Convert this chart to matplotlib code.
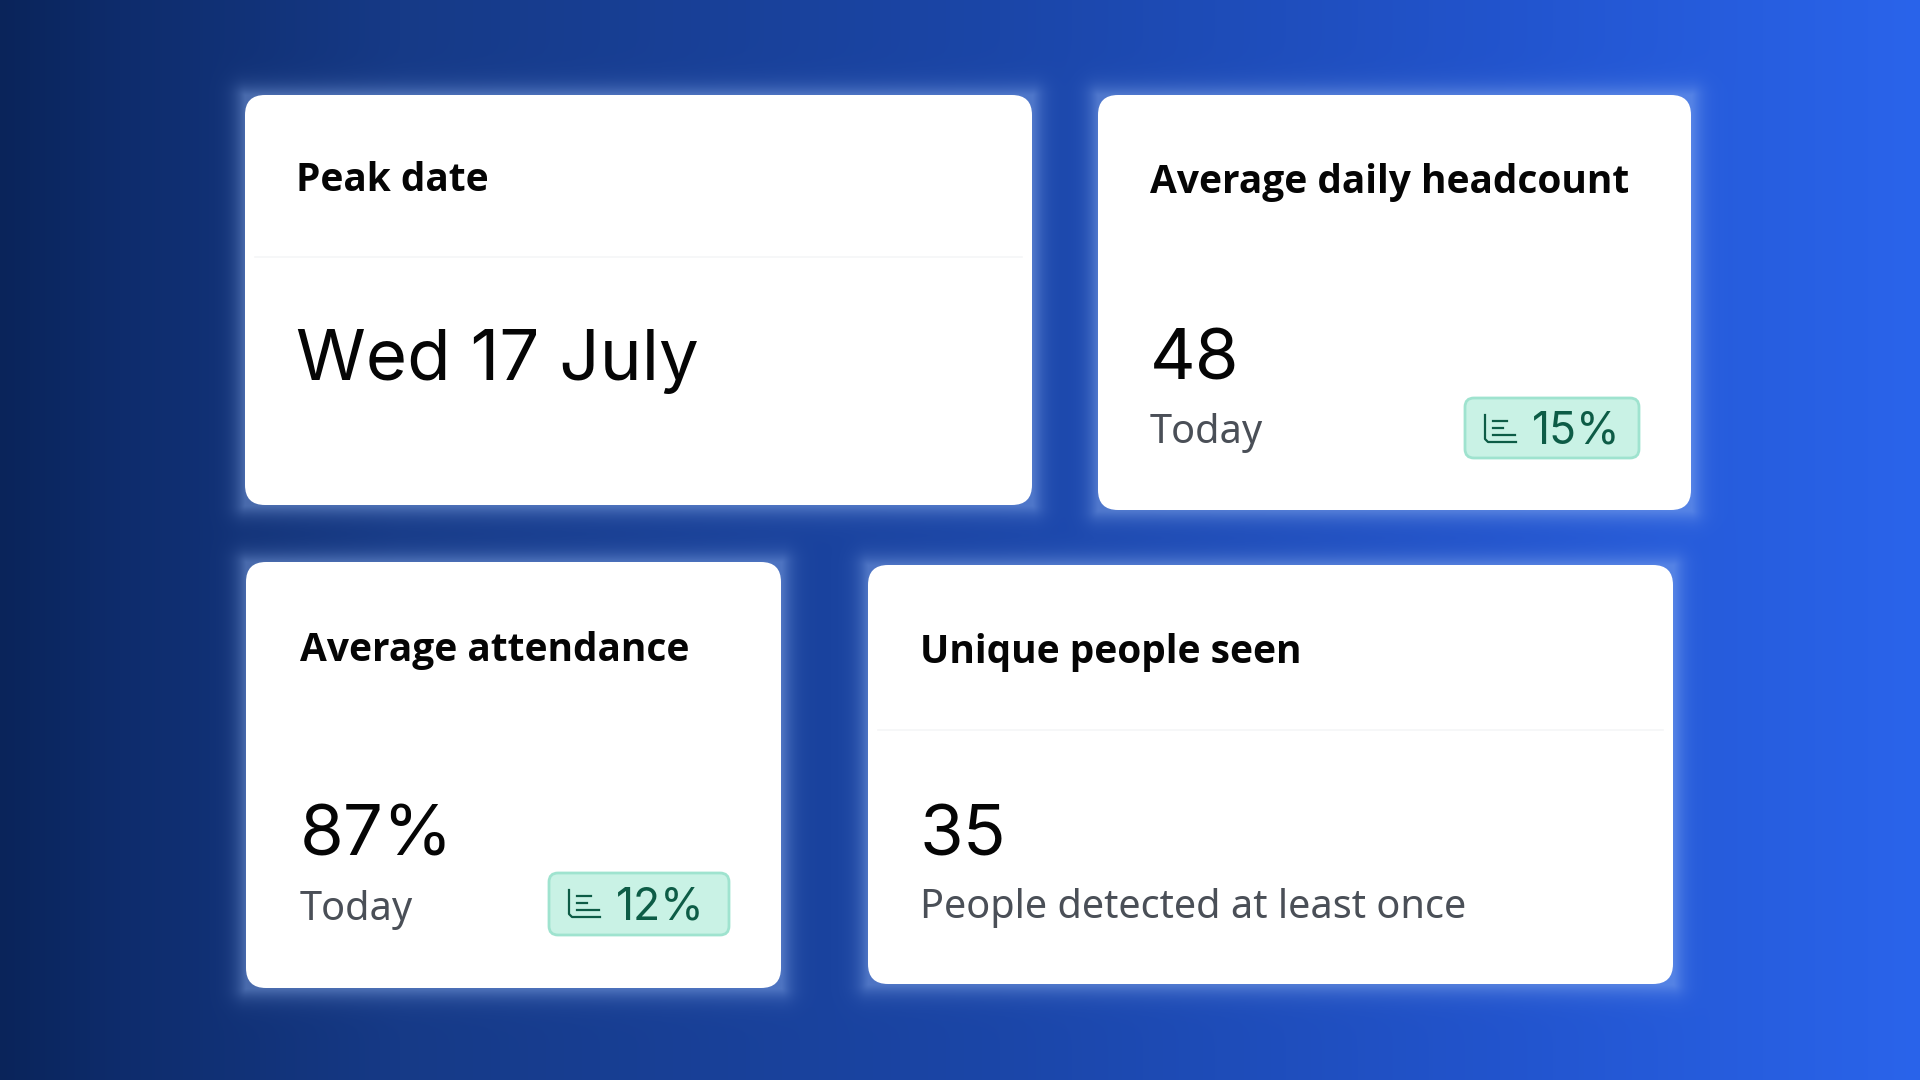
import numpy as np
import matplotlib
matplotlib.use('Agg')
import matplotlib.pyplot as plt
from matplotlib.patches import FancyBboxPatch

plt.rcParams['font.family'] = ['Noto Sans', 'DejaVu Sans']

# Card contents
titles = ['Peak date', 'Average daily headcount', 'Average attendance', 'Unique people seen']
values = ['Wed 17 July', '48', '87%', '35']
subtitles = ['', 'Today', 'Today', 'People detected at least once']
badges = ['', '15%', '12%', '']

# Layout in pixels: left, top, right, bottom
cards = [(245, 95, 1032, 505), (1098, 95, 1691, 510), (246, 562, 781, 988), (868, 565, 1673, 984)]
text_x = [296, 1150, 300, 920]
title_y = [191, 193, 661, 663]
value_y = [380, 380, 855, 855]
sub_y = [0, 443, 920, 918]
divider_y = [257, None, None, 730]
badge_box = [None, (1465, 398, 1639, 458), (549, 873, 729, 935), None]

W, H = 1920, 1080

# Background gradient
stops_x = [0, 120, 400, 1000, 1500, 1920]
stops_r = [10, 14, 22, 27, 34, 42]
stops_g = [36, 44, 58, 70, 84, 100]
stops_b = [90, 108, 135, 168, 205, 235]
xx = np.arange(W)
bg = np.zeros((H, W, 3))
bg[:, :, 0] = np.interp(xx, stops_x, stops_r)
bg[:, :, 1] = np.interp(xx, stops_x, stops_g)
bg[:, :, 2] = np.interp(xx, stops_x, stops_b)

# Soft glow around each card
yy, xg = np.mgrid[0:H, 0:W]
glow_col = np.array([150, 185, 245])
for l, t, r, b in cards:
    dx = np.maximum(np.maximum(l - xg, xg - r), 0)
    dy = np.maximum(np.maximum(t - yy, yy - b), 0)
    d = np.hypot(dx, dy)
    a = 0.42 * np.exp(-(d / 11.0) ** 1.3)
    bg = bg * (1 - a[..., None]) + glow_col * a[..., None]

fig = plt.figure(figsize=(19.2, 10.8), dpi=100)
ax = fig.add_axes([0, 0, 1, 1])
ax.imshow(bg.astype(np.uint8), extent=(0, W, H, 0), aspect='auto', zorder=0)
ax.set_xlim(0, W)
ax.set_ylim(H, 0)
ax.axis('off')

for i, (l, t, r, b) in enumerate(cards):
    ax.add_patch(FancyBboxPatch((l + 20, t + 20), r - l - 40, b - t - 40,
                                boxstyle='round,pad=20,rounding_size=20',
                                fc='white', ec='none', zorder=2))
    if divider_y[i]:
        ax.plot([l + 10, r - 10], [divider_y[i]] * 2, color='#f5f6f7', lw=1.2, zorder=3)
    ax.text(text_x[i], title_y[i], titles[i], fontsize=28, fontweight='bold',
            family=['Open Sans', 'DejaVu Sans'], color='#050505', va='baseline', zorder=4)
    ax.text(text_x[i], value_y[i], values[i], fontsize=51, family=['Inter', 'DejaVu Sans'],
            color='#050505', va='baseline', zorder=4)
    if subtitles[i]:
        ax.text(text_x[i], sub_y[i], subtitles[i], fontsize=28.6,
                color='#4a4f57', va='baseline', zorder=4)
    if badge_box[i]:
        bl, bt, br, bb = badge_box[i]
        ax.add_patch(FancyBboxPatch((bl + 9, bt + 9), br - bl - 18, bb - bt - 18,
                                    boxstyle='round,pad=9,rounding_size=9',
                                    fc='#c9f2e5', ec='#9fe3cf', lw=2, zorder=3))
        ax.text(bl + 67, bb - 15, badges[i], fontsize=32, color='#0d5c46',
                family=['Inter', 'DejaVu Sans'], va='baseline', zorder=4)
        # small chart icon
        ix, iy = bl + 20, bt + 17
        ax.plot([ix, ix, ix + 3, ix + 31], [iy, iy + 24, iy + 27, iy + 27],
                color='#0d5c46', lw=1.6, zorder=4)
        for dy_, ln in zip([6, 13, 20], [14, 10, 22]):
            ax.plot([ix + 8, ix + 8 + ln], [iy + dy_, iy + dy_], color='#0d5c46',
                    lw=1.6, zorder=4)

fig.savefig('out.png', dpi=100)
